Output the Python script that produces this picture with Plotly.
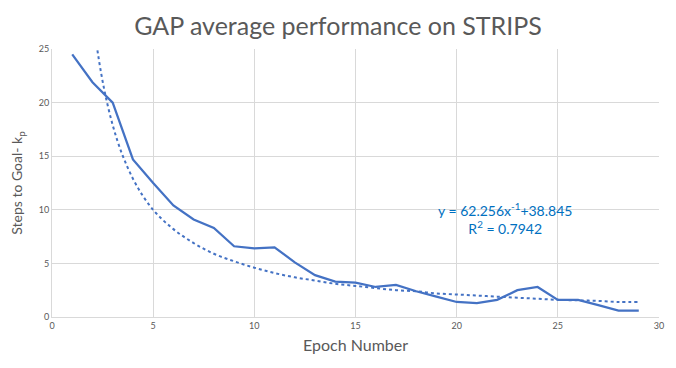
import plotly.graph_objects as go

# Epochs and average steps to goal
epochs = list(range(1, 30))
steps = [24.5, 21.9, 20.0, 14.7, 12.5, 10.4, 9.1, 8.3, 6.6, 6.4,
         6.5, 5.1, 3.9, 3.3, 3.2, 2.8, 3.0, 2.4, 1.9, 1.4,
         1.3, 1.6, 2.5, 2.8, 1.6, 1.6, 1.1, 0.6, 0.6]

# Trendline (dotted)
trend = [62.3, 28.4, 17.9, 12.9, 10.0, 8.2, 6.9, 5.9, 5.2, 4.6,
         4.1, 3.7, 3.4, 3.1, 2.9, 2.7, 2.5, 2.4, 2.2, 2.1,
         2.0, 1.9, 1.8, 1.7, 1.6, 1.55, 1.5, 1.4, 1.4]

blue = "#4472C4"
grey_text = "#595959"
font = "Lato"

fig = go.Figure()

fig.add_trace(
    go.Scatter(
        x=epochs,
        y=trend,
        mode="lines",
        line=dict(color=blue, width=2, dash="dot", shape="spline"),
        showlegend=False,
    )
)

fig.add_trace(
    go.Scatter(
        x=epochs,
        y=steps,
        mode="lines",
        line=dict(color=blue, width=2.25),
        showlegend=False,
    )
)

fig.add_annotation(
    x=22.4, y=9.2, xref="x", yref="y",
    text="y = 62.256x<sup>-1</sup>+38.845<br>R<sup>2</sup> = 0.7942",
    showarrow=False,
    align="center",
    font=dict(family=font, size=14, color="#0070C0"),
)

# page body has an 8px margin, so the figure is sized a bit smaller
fig.update_layout(
    title=dict(
        text="GAP average performance on STRIPS",
        x=0.5, xanchor="center", xref="container",
        y=0.948, yanchor="middle",
        font=dict(family=font, size=25, color=grey_text),
        automargin=False,
    ),
    width=660,
    height=352,
    margin=dict(l=44, r=9, t=41, b=43, autoexpand=False),
    plot_bgcolor="white",
    paper_bgcolor="white",
    xaxis=dict(
        title=dict(text="Epoch Number", font=dict(family=font, size=16, color=grey_text), standoff=10),
        range=[0, 30],
        dtick=5,
        tickfont=dict(family=font, size=9, color=grey_text),
        showgrid=True,
        gridcolor="#D9D9D9",
        zeroline=False,
        showline=True,
        linecolor="#D9D9D9",
        ticks="",
        automargin=False,
    ),
    yaxis=dict(
        title=dict(text="Steps to Goal- k<sub>p</sub>", font=dict(family=font, size=14, color=grey_text), standoff=16),
        range=[0, 25],
        dtick=5,
        tickfont=dict(family=font, size=9, color=grey_text),
        showgrid=True,
        gridcolor="#D9D9D9",
        zeroline=False,
        showline=True,
        linecolor="#D9D9D9",
        ticks="",
        automargin=False,
    ),
)

fig.write_html("out.html")
